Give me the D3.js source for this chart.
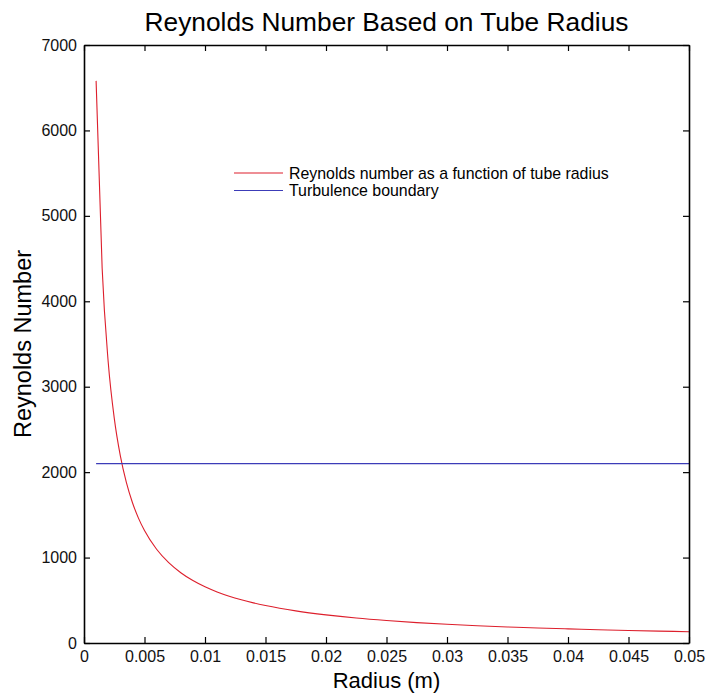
<!DOCTYPE html>
<html>
<head>
<meta charset="utf-8">
<script src="https://cdn.jsdelivr.net/npm/d3@7"></script>
<style>
  body { margin: 0; background: #fff; }
  svg { display: block; }
  text { font-family: "Liberation Sans", Arial, sans-serif; }
</style>
</head>
<body>
<svg id="chart" width="706" height="694"></svg>
<script>
// ---- data ----
const radius = [0.001, 0.0015, 0.002, 0.0025, 0.003, 0.0035, 0.004, 0.0045, 0.005,
  0.006, 0.007, 0.008, 0.009, 0.010, 0.011, 0.012, 0.013, 0.014, 0.015,
  0.0175, 0.020, 0.0225, 0.025, 0.0275, 0.030, 0.0325, 0.035, 0.0375,
  0.040, 0.0425, 0.045, 0.0475, 0.050];
const reynolds = [6580, 4387, 3290, 2632, 2193, 1880, 1645, 1462, 1316,
  1097, 940, 823, 731, 658, 598, 548, 506, 470, 439,
  376, 329, 292, 263, 239, 219, 202, 188, 175,
  165, 155, 146, 139, 132];
const boundaryRadius = [0.001, 0.05];
const boundaryValue = [2100, 2100];
const xTicks = [0, 0.005, 0.01, 0.015, 0.02, 0.025, 0.03, 0.035, 0.04, 0.045, 0.05];
const yTicks = [0, 1000, 2000, 3000, 4000, 5000, 6000, 7000];
const xDomain = [0, 0.05];
const yDomain = [0, 7000];
const titleText = "Reynolds Number Based on Tube Radius";
const xLabel = "Radius (m)";
const yLabel = "Reynolds Number";
const legendLabels = ["Reynolds number as a function of tube radius", "Turbulence boundary"];

// ---- layout ----
const W = 706, H = 694;
const m = { left: 84, right: 17, top: 45, bottom: 51 };
const pw = W - m.left - m.right, ph = H - m.top - m.bottom;
const red = "#dd1f2c", blue = "#3c3cb8";

const svg = d3.select("#chart");
const g = svg.append("g").attr("transform", `translate(${m.left},${m.top})`);

const x = d3.scaleLinear().domain(xDomain).range([0, pw]);
const y = d3.scaleLinear().domain(yDomain).range([ph, 0]);
const fmt = d3.format("~g");

// lines
const line = d3.line().x(d => x(d[0])).y(d => y(d[1])).curve(d3.curveMonotoneX);
g.append("path")
  .datum(radius.map((r, i) => [r, reynolds[i]]))
  .attr("d", line).attr("fill", "none").attr("stroke", red).attr("stroke-width", 1.1);
g.append("path")
  .datum(boundaryRadius.map((r, i) => [r, boundaryValue[i]]))
  .attr("d", d3.line().x(d => x(d[0])).y(d => y(d[1])))
  .attr("fill", "none").attr("stroke", blue).attr("stroke-width", 1.1);

// axes
const styleAxis = sel => {
  sel.select(".domain").attr("stroke", "#000").attr("stroke-width", 1.6);
  sel.selectAll(".tick line").attr("stroke", "#000").attr("stroke-width", 1.2);
  sel.selectAll("text").attr("font-size", 16).attr("fill", "#111")
    .attr("font-family", '"Liberation Sans", Arial, sans-serif');
};
g.append("g").attr("transform", `translate(0,${ph})`)
  .call(d3.axisBottom(x).tickValues(xTicks).tickFormat(fmt).tickSizeInner(-6).tickSizeOuter(0).tickPadding(8))
  .call(styleAxis);
g.append("g")
  .call(d3.axisLeft(y).tickValues(yTicks).tickFormat(fmt).tickSizeInner(-6).tickSizeOuter(0).tickPadding(7))
  .call(styleAxis);
g.append("g")
  .call(d3.axisTop(x).tickValues(xTicks).tickFormat("").tickSizeInner(-6).tickSizeOuter(0))
  .call(styleAxis);
g.append("g").attr("transform", `translate(${pw},0)`)
  .call(d3.axisRight(y).tickValues(yTicks).tickFormat("").tickSizeInner(-6).tickSizeOuter(0))
  .call(styleAxis);

// title & labels
svg.append("text").attr("x", m.left + pw / 2).attr("y", 31)
  .attr("text-anchor", "middle").attr("font-size", 26.3).attr("fill", "#000").text(titleText);
svg.append("text").attr("x", m.left + pw / 2).attr("y", 688)
  .attr("text-anchor", "middle").attr("font-size", 22).attr("fill", "#000").text(xLabel);
svg.append("text").attr("transform", `translate(31,${m.top + ph / 2}) rotate(-90)`)
  .attr("text-anchor", "middle").attr("font-size", 23.5).attr("fill", "#000").text(yLabel);

// legend
const legend = svg.append("g").attr("transform", "translate(234,173)");
[red, blue].forEach((c, i) => {
  const row = legend.append("g").attr("transform", `translate(0,${i * 17.5})`);
  row.append("line").attr("x1", 0).attr("x2", 49).attr("y1", 0).attr("y2", 0)
    .attr("stroke", c).attr("stroke-width", 1.1);
  row.append("text").attr("x", 55).attr("y", 5.5).attr("font-size", 15.9)
    .attr("fill", "#000").text(legendLabels[i]);
});
</script>
</body>
</html>
